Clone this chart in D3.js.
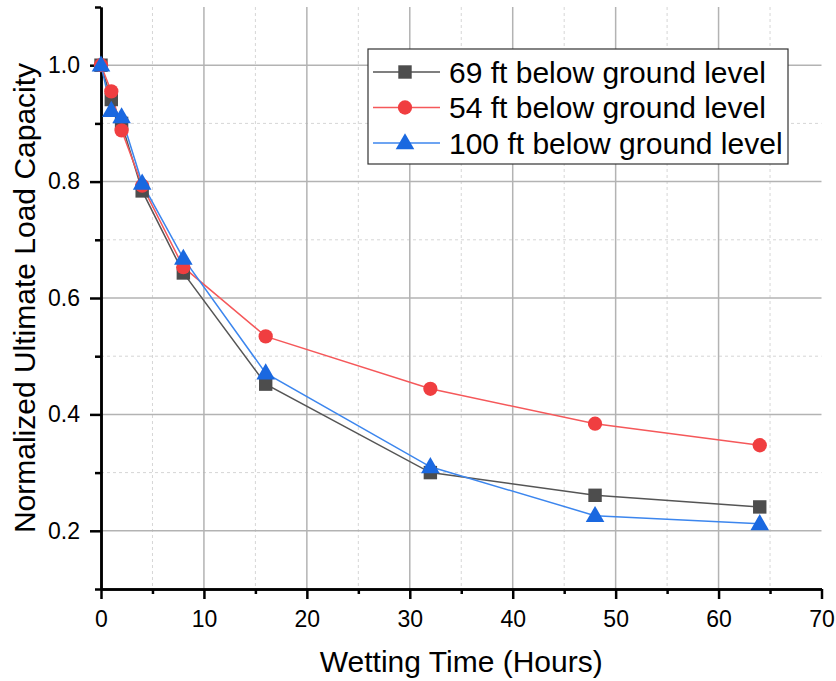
<!DOCTYPE html>
<html>
<head>
<meta charset="utf-8">
<script src="https://cdn.jsdelivr.net/npm/d3@7"></script>
<style>
  html, body { margin: 0; padding: 0; background: #fff; }
  svg { display: block; font-family: "Liberation Sans", Arial, sans-serif; }
</style>
</head>
<body>
<svg id="chart" width="836" height="681"></svg>
<script>
// Wetting time (hours) at which load capacity was measured
const hours = [0, 1, 2, 4, 8, 16, 32, 48, 64];

// Normalized ultimate load capacity for each depth
const depth69 = [1.0, 0.941, 0.90, 0.784, 0.643, 0.452, 0.300, 0.261, 0.241];
const depth54 = [1.0, 0.955, 0.888, 0.793, 0.653, 0.534, 0.444, 0.384, 0.347];
const depth100 = [1.0, 0.922, 0.911, 0.797, 0.668, 0.471, 0.310, 0.226, 0.212];

const seriesNames = ["69 ft below ground level", "54 ft below ground level", "100 ft below ground level"];

const xTicks = [0, 10, 20, 30, 40, 50, 60, 70];
const yTicks = [0.2, 0.4, 0.6, 0.8, 1.0];

const series = [
  { name: seriesNames[0], values: depth69, line: "#555555", fill: "#4d4d4d", shape: d3.symbolSquare, size: 180 },
  { name: seriesNames[1], values: depth54, line: "#f5585a", fill: "#f03e40", shape: d3.symbolCircle, size: 160 },
  { name: seriesNames[2], values: depth100, line: "#3c86ee", fill: "#1a68e0", shape: d3.symbolTriangle, size: 150 }
];

const svg = d3.select("#chart");
const plotLeft = 101, plotRight = 821.5, plotTop = 7, plotBottom = 589;

const x = d3.scaleLinear().domain([0, 70]).range([plotLeft, plotRight]);
const y = d3.scaleLinear().domain([0.1, 1.1]).range([plotBottom, plotTop]);

// Grid: dashed minor lines, solid major lines
const g = svg.append("g");
const xMinor = d3.range(5, 70, 10);
const yMinor = [0.3, 0.5, 0.7, 0.9];
g.selectAll(".xminor").data(xMinor).join("line")
  .attr("x1", d => x(d)).attr("x2", d => x(d)).attr("y1", plotTop).attr("y2", plotBottom)
  .attr("stroke", "#d6d6d6").attr("stroke-width", 1).attr("stroke-dasharray", "3,3");
g.selectAll(".yminor").data(yMinor).join("line")
  .attr("x1", plotLeft).attr("x2", plotRight).attr("y1", d => y(d)).attr("y2", d => y(d))
  .attr("stroke", "#d6d6d6").attr("stroke-width", 1).attr("stroke-dasharray", "3,3");
g.selectAll(".xmajor").data(xTicks.filter(d => d > 0 && d < 70)).join("line")
  .attr("x1", d => x(d)).attr("x2", d => x(d)).attr("y1", plotTop).attr("y2", plotBottom)
  .attr("stroke", "#b3b3b3").attr("stroke-width", 1.5);
g.selectAll(".ymajor").data(yTicks).join("line")
  .attr("x1", plotLeft).attr("x2", plotRight).attr("y1", d => y(d)).attr("y2", d => y(d))
  .attr("stroke", "#b3b3b3").attr("stroke-width", 1.5);

// Axes
const xAxis = d3.axisBottom(x).tickValues(xTicks).tickSize(10).tickPadding(12).tickSizeOuter(0).tickFormat(d3.format("d"));
const xAxisMinor = d3.axisBottom(x).tickValues(xMinor).tickSize(5).tickSizeOuter(0).tickFormat("");
const yAxis = d3.axisLeft(y).tickValues(yTicks).tickSize(11).tickPadding(10).tickSizeOuter(0).tickFormat(d3.format(".1f"));
const yAxisMinor = d3.axisLeft(y).tickValues([0.1, 0.3, 0.5, 0.7, 0.9, 1.1]).tickSize(6).tickSizeOuter(0).tickFormat("");

function styleAxis(sel) {
  sel.select(".domain").attr("stroke", "#000").attr("stroke-width", 2.5);
  sel.selectAll(".tick line").attr("stroke", "#000").attr("stroke-width", 2.5);
  sel.selectAll(".tick text").attr("fill", "#000").style("font-size", "23px");
}

svg.append("g").attr("transform", `translate(0,${plotBottom})`).call(xAxisMinor).call(styleAxis);
svg.append("g").attr("transform", `translate(0,${plotBottom})`).call(xAxis).call(styleAxis);
svg.append("g").attr("transform", `translate(${plotLeft},0)`).call(yAxisMinor).call(styleAxis);
svg.append("g").attr("transform", `translate(${plotLeft},0)`).call(yAxis).call(styleAxis);

// Axis titles
svg.append("text").attr("x", (plotLeft + plotRight) / 2).attr("y", 672)
  .attr("text-anchor", "middle").style("font-size", "30px").text("Wetting Time (Hours)");
svg.append("text").attr("transform", `translate(35,${(plotTop + plotBottom) / 2}) rotate(-90)`)
  .attr("text-anchor", "middle").style("font-size", "30px").text("Normalized Ultimate Load Capacity");

// Lines and markers
const line = d3.line().x((d, i) => x(hours[i])).y(d => y(d));
const plot = svg.append("g");
series.forEach(s => {
  plot.append("path").datum(s.values).attr("d", line)
    .attr("fill", "none").attr("stroke", s.line).attr("stroke-width", 1.5);
});
series.forEach(s => {
  const sym = d3.symbol().type(s.shape).size(s.size);
  plot.selectAll(null).data(s.values).join("path")
    .attr("transform", (d, i) => `translate(${x(hours[i])},${y(d) + (s.shape === d3.symbolTriangle ? 1 : 0)})`)
    .attr("d", sym).attr("fill", s.fill);
});

// Legend
const lg = svg.append("g");
lg.append("rect").attr("x", 368).attr("y", 49).attr("width", 420).attr("height", 115)
  .attr("fill", "#fff").attr("stroke", "#333").attr("stroke-width", 1.2);
series.forEach((s, i) => {
  const cy = 72 + i * 35.5;
  lg.append("line").attr("x1", 373).attr("x2", 440).attr("y1", cy).attr("y2", cy)
    .attr("stroke", s.line).attr("stroke-width", 1.5);
  lg.append("path").attr("transform", `translate(405,${cy + (s.shape === d3.symbolTriangle ? 1 : 0)})`)
    .attr("d", d3.symbol().type(s.shape).size(s.size)()).attr("fill", s.fill);
  lg.append("text").attr("x", 449).attr("y", cy + 10.5).style("font-size", "30px").text(s.name);
});
</script>
</body>
</html>
